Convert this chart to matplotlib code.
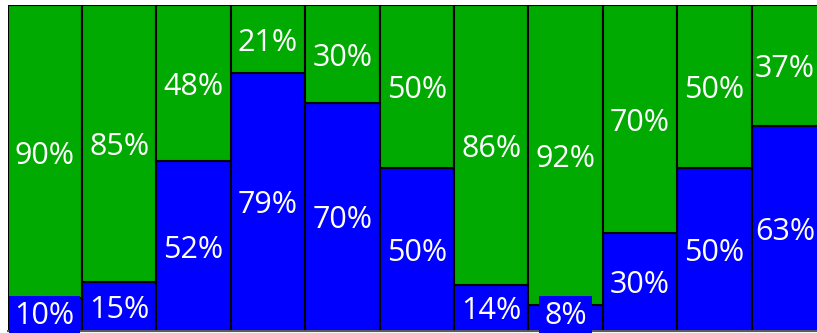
import numpy as np
import matplotlib.pyplot as plt

# shares per column (percent)
blue_share = [10, 15, 52, 79, 70, 50, 14, 8, 30, 50, 63]
green_share = [90, 85, 48, 21, 30, 50, 86, 92, 70, 50, 37]

blue = "#0000ff"
green = "#00aa00"


def main():
    fig = plt.figure(figsize=(8.17, 3.33), dpi=100)
    # axes in pixels: left 7.5, bottom 2, width 818.5 (runs off the right edge), height 326
    ax = fig.add_axes([7.5 / 817, 2 / 333, 818.5 / 817, 326 / 333])

    x = np.arange(len(blue_share))
    ax.bar(x, blue_share, width=1.0, color=blue, edgecolor="black", linewidth=1.5)
    ax.bar(x, green_share, bottom=blue_share, width=1.0, color=green,
           edgecolor="black", linewidth=1.5)

    # value labels in the middle of each segment
    # segments too thin for the text get a filled box behind the label
    for i in range(len(x)):
        b = blue_share[i]
        g = green_share[i]
        # last column is clipped by the figure edge, nudge its labels left
        dx = -0.05 if i == len(x) - 1 else 0.0
        box = None
        if b < 12:
            box = dict(boxstyle="square,pad=0.18", fc=blue, ec="none")
        ax.text(x[i] + dx, max(b / 2 - 1, 4.6), "%d%%" % b, ha="center", va="center",
                color="white", fontsize=22, family="Open Sans", zorder=4,
                bbox=box)
        ax.text(x[i] + dx, b + g / 2 - 1.2, "%d%%" % g, ha="center", va="center",
                color="white", fontsize=22, family="Open Sans", zorder=4)

    ax.set_xlim(-0.5, len(x) - 0.5)
    ax.set_ylim(0, 100)
    ax.set_xticks([])
    ax.set_yticks([])
    for side in ["left", "top", "right"]:
        ax.spines[side].set_visible(False)
    ax.spines["bottom"].set_color("#595959")
    ax.spines["bottom"].set_linewidth(1.5)

    fig.savefig("out.png", dpi=100)


if __name__ == "__main__": main()
